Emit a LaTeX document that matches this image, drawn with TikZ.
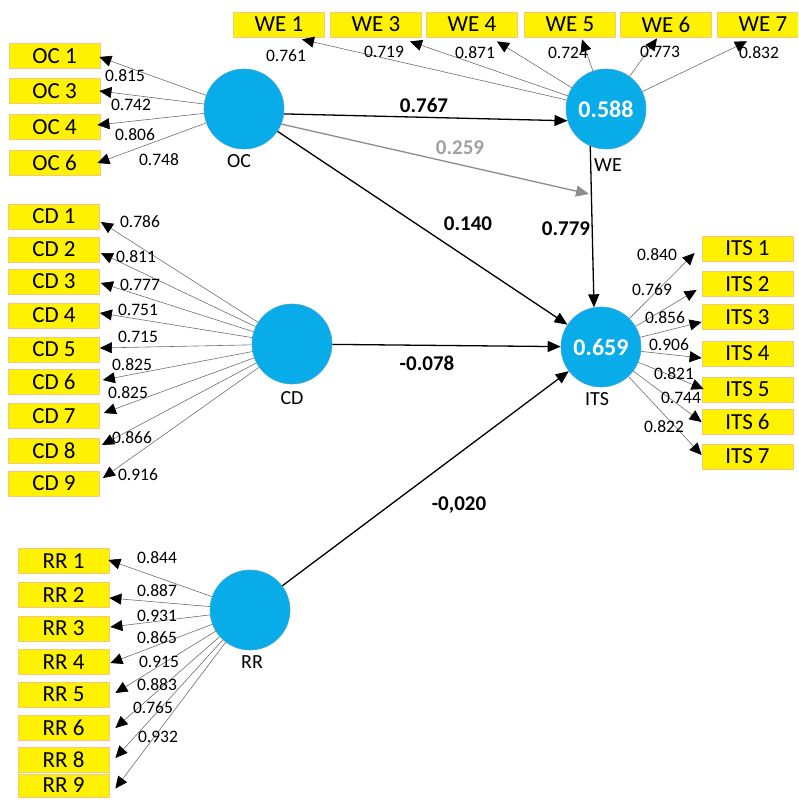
\documentclass[tikz,border=0pt]{standalone}
\usepackage{fontspec}
\setmainfont{Carlito}
\usetikzlibrary{arrows.meta,calc}
\definecolor{lvblue}{RGB}{8,172,232}
\definecolor{lvedge}{RGB}{70,165,215}
\definecolor{boxedge}{RGB}{245,200,130}
\definecolor{indline}{RGB}{110,110,110}
\definecolor{medgray}{RGB}{140,140,140}
\definecolor{medtext}{RGB}{160,160,160}
\begin{document}
\begin{tikzpicture}[x=1pt,y=-1pt,
  latent/.style={circle,fill=lvblue,draw=lvedge,line width=0.6pt,minimum size=80pt,inner sep=0pt,text=white,font=\fontsize{24}{24}\selectfont\bfseries},
  indic/.style={rectangle,fill=yellow,draw=boxedge,line width=0.8pt,minimum width=91pt,minimum height=25pt,inner sep=0pt,font=\fontsize{23}{23}\selectfont},
  loadarrow/.style={draw=indline,line width=0.6pt,-{Triangle[length=12pt,width=11pt,color=black]}},
  structarrow/.style={draw=black,line width=1.3pt,-{Triangle[length=13pt,width=11pt]}},
  medarrow/.style={draw=medgray,line width=1.3pt,-{Triangle[length=13pt,width=11pt,color=medgray]}},
  loadlbl/.style={inner sep=0pt,font=\fontsize{17.5}{17.5}\selectfont},
  coeflbl/.style={inner sep=0pt,font=\fontsize{21}{21}\selectfont\bfseries},
  lvname/.style={inner sep=0pt,font=\fontsize{20}{20}\selectfont}
]
\useasboundingbox (0,0) rectangle (798,800);
\clip (0,0) rectangle (798,800);

% latent variables
\node[latent] (OC) at (244,109) {};
\node[latent] (WE) at (606,109) {0.588};
\node[latent] (CD) at (292,344) {};
\node[latent] (ITS) at (601,347) {0.659};
\node[latent] (RR) at (250,610) {};

\node[lvname] (OCn) at (239,161) {OC};
\node[lvname] (WEn) at (608,165) {WE};
\node[lvname] (CDn) at (292,398) {CD};
\node[lvname] (ITSn) at (597,399) {ITS};
\node[lvname] (RRn) at (252,662) {RR};

% OC indicators
\foreach \n/\y/\dx/\dy/\v/\lx/\ly in {1/56/-1/1/0.815/125/76, 3/91/-1/0/0.742/131/105, 4/127/-3/-2/0.806/135/135, 6/163/-3/0/0.748/159/160}{
  \node[indic] (OC\n) at (54.5,\y) {OC \n};
  \draw[loadarrow] (OC) -- ($(OC\n.east)+(\dx,\dy)$);
  \node[loadlbl] (lOC\n) at (\lx,\ly) {\v};
}

% WE indicators
\foreach \n/\x/\dx/\dy/\v/\lx/\ly in {1/279/23/2/0.761/286/56, 3/376/34/4/0.719/384/52, 4/472/25/4/0.871/475/53, 5/570/12/2/0.724/568/53, 6/666/-9/1/0.773/660/52, 7/763/-16/4/0.832/759/53}{
  \node[indic] (WE\n) at (\x,24.5) {WE \n};
  \draw[loadarrow] (WE) -- ($(WE\n.south)+(\dx,\dy)$);
  \node[loadlbl] (lWE\n) at (\lx,\ly) {\v};
}

% CD indicators
\foreach \n/\y/\dx/\dy/\v/\lx/\ly in {1/216.5/1/5.5/0.786/140/222, 2/249.5/1/3.5/0.811/136/257, 3/281.5/1/1.5/0.777/140/285, 4/315.5/0/-2.5/0.751/138/310, 5/349.5/0/-1.5/0.715/138/337, 6/382/3/-2/0.825/132/365, 7/416/4/-3/0.825/128/393, 8/450.5/2/-5.5/0.866/132/438, 9/483.5/3/-5.5/0.916/138/475}{
  \node[indic] (CD\n) at (54,\y) {CD \n};
  \draw[loadarrow] (CD) -- ($(CD\n.east)+(\dx,\dy)$);
  \node[loadlbl] (lCD\n) at (\lx,\ly) {\v};
}

% ITS indicators
\foreach \n/\y/\dx/\dy/\v/\lx/\ly in {1/248.5/-7/4.5/0.840/657/255, 2/284/-5/6/0.769/652/290, 3/317/0/5/0.856/665/318, 4/353.5/0/4.5/0.906/669/345, 5/389.5/2/-0.5/0.821/674/374, 6/422/0/0/0.744/681/398, 7/456.5/0/-1.5/0.822/664/427}{
  \node[indic] (ITS\n) at (747.5,\y) {ITS \n};
  \draw[loadarrow] (ITS) -- ($(ITS\n.west)+(\dx,\dy)$);
  \node[loadlbl] (lITS\n) at (\lx,\ly) {\v};
}

% RR indicators
\foreach \n/\y/\dx/\dy/\v/\lx/\ly in {1/561/-1/-1/0.844/157/558, 2/595/0/3/0.887/157/591, 3/628.5/1/-1.5/0.931/157/616, 4/662/1/1/0.865/157/638, 5/694.5/6/-1.5/0.915/159/662, 6/728/6/0/0.883/157/685, 8/759.5/6/-1.5/0.765/153/708}{
  \node[indic] (RR\n) at (63.5,\y) {RR \n};
  \draw[loadarrow] (RR) -- ($(RR\n.east)+(\dx,\dy)$);
  \node[loadlbl] (lRR\n) at (\lx,\ly) {\v};
}
\node[indic,minimum height=23pt] (RR9) at (63.5,785.5) {RR 9};
\draw[loadarrow] (RR) -- ($(RR9.east)+(6,3)$);
\node[loadlbl] (lRR9) at (158,737) {0.932};

% structural paths
\coordinate (med) at (589,194);
\draw[structarrow] (OC.-7) -- (WE.-163);
\draw[medarrow] (OC.-22) -- (med);
\draw[structarrow] (WE.-113) -- (ITS.100);
\draw[structarrow] (OC) -- (ITS);
\draw[structarrow] (CD) -- (ITS);
\draw[structarrow] (RR) -- (ITS);

\node[coeflbl] (cOCWE) at (424,105) {0.767};
\node[coeflbl,text=medtext] (cMed) at (460,148) {0.259};
\node[coeflbl] (cWEITS) at (566,229) {0.779};
\node[coeflbl] (cOCITS) at (468,224) {0.140};
\node[coeflbl] (cCDITS) at (427,363) {-0.078};
\node[coeflbl] (cRRITS) at (459,505) {-0,020};
\end{tikzpicture}
\end{document}
